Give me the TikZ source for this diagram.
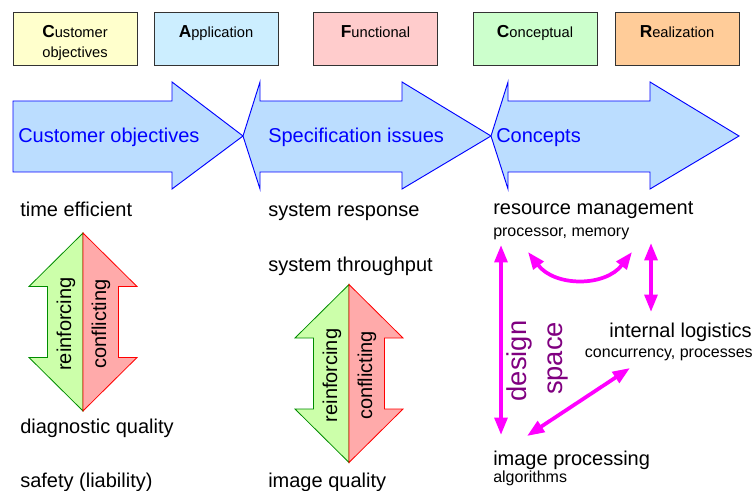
\documentclass[tikz,border=0pt]{standalone}
\usepackage{fontspec}
\setmainfont{Liberation Sans}
\usepackage{tikz}
\usetikzlibrary{arrows.meta, positioning}
\definecolor{custcolor}{RGB}{255,255,204}
\definecolor{appcolor}{RGB}{204,238,255}
\definecolor{funccolor}{RGB}{255,204,204}
\definecolor{conccolor}{RGB}{204,255,204}
\definecolor{realcolor}{RGB}{255,204,153}
\definecolor{arrowfill}{RGB}{187,221,255}
\definecolor{profill}{RGB}{204,255,170}
\definecolor{proline}{RGB}{0,140,0}
\definecolor{confill}{RGB}{255,170,170}
\definecolor{conline}{RGB}{255,0,0}
\definecolor{linkcolor}{RGB}{255,0,255}
\definecolor{spacecolor}{RGB}{128,0,128}
\newcommand{\bigini}[1]{{\fontsize{13}{15}\selectfont\bfseries #1}}

\begin{document}
\begin{tikzpicture}[
    x=0.75pt, y=-0.75pt,
    cafbox/.style={draw=black!80, line width=0.6pt, minimum width=93pt, minimum height=39.75pt, inner sep=0},
    boxlabel/.style={anchor=north, align=center, inner sep=0, font=\fontsize{11}{15}\selectfont},
    bigarrow/.style={draw=blue, fill=arrowfill, line width=0.7pt},
    arrowlabel/.style={anchor=base west, inner sep=0, text=blue, font=\fontsize{15}{18}\selectfont},
    itemtext/.style={anchor=base west, inner sep=0, font=\fontsize{15}{18}\selectfont},
    subtext/.style={anchor=base west, inner sep=0, font=\fontsize{12}{14}\selectfont},
    pro/.style={draw=proline, fill=profill, line width=0.6pt},
    con/.style={draw=conline, fill=confill, line width=0.6pt},
    sidelabel/.style={rotate=90, inner sep=0, font=\fontsize{15}{18}\selectfont},
    spacetext/.style={rotate=90, inner sep=0, text=spacecolor, font=\fontsize{20.5}{24}\selectfont},
    link/.style={{Triangle[length=13pt,width=9.5pt]}-{Triangle[length=13pt,width=9.5pt]}, line width=2.8pt, linkcolor}
]
    \useasboundingbox (0,0) rectangle (756,491);

    % CAFCR boxes
    \node[cafbox, fill=custcolor] (boxC) at (75,38.5) {};
    \node[cafbox, fill=appcolor] (boxA) at (216,38.5) {};
    \node[cafbox, fill=funccolor] (boxF) at (375.5,38.5) {};
    \node[cafbox, fill=conccolor] (boxCo) at (535,38.5) {};
    \node[cafbox, fill=realcolor] (boxR) at (677,38.5) {};
    \node[boxlabel] (labC) at (75,25.5) {\bigini{C}ustomer\\objectives};
    \node[boxlabel] (labA) at (216,25.5) {\bigini{A}pplication};
    \node[boxlabel] (labF) at (375.5,25.5) {\bigini{F}unctional};
    \node[boxlabel] (labCo) at (535,25.5) {\bigini{C}onceptual};
    \node[boxlabel] (labR) at (677,25.5) {\bigini{R}ealization};

    % big arrows
    \draw[bigarrow] (13,101) -- (172,101) -- (172,82) -- (243,136) -- (172,189) -- (172,172) -- (13,172) -- cycle;
    \draw[bigarrow] (260,101) -- (402,101) -- (402,82) -- (491,136) -- (402,189) -- (402,172) -- (260,172) -- (260,189) -- (243,136) -- (260,82) -- cycle;
    \draw[bigarrow] (508,101) -- (650,101) -- (650,82) -- (739,136) -- (650,189) -- (650,172) -- (508,172) -- (508,189) -- (491,136) -- (508,82) -- cycle;
    \node[arrowlabel] (custobj) at (18,143) {Customer objectives};
    \node[arrowlabel] (specissue) at (268,143) {Specification issues};
    \node[arrowlabel] (concepts) at (496,143) {Concepts};

    % qualities
    \node[itemtext] (timeeff) at (20,217) {time efficient};
    \node[itemtext] (diagqual) at (20,433) {diagnostic quality};
    \node[itemtext] (safety) at (20,487) {safety (liability)};
    \node[itemtext] (sysresp) at (268,217) {system response};
    \node[itemtext] (systhru) at (268,272) {system throughput};
    \node[itemtext] (imgqual) at (268,487) {image quality};

    % reinforcing / conflicting
    \foreach \cx/\cy/\n in {83/322/A, 349/373.5/B} {
        \draw[pro] (\cx,\cy-89) -- (\cx-54,\cy-35.5) -- (\cx-35.5,\cy-35.5) -- (\cx-35.5,\cy+35.5) -- (\cx-54,\cy+35.5) -- (\cx,\cy+89) -- cycle;
        \draw[con] (\cx,\cy-89) -- (\cx+54,\cy-35.5) -- (\cx+35.5,\cy-35.5) -- (\cx+35.5,\cy+35.5) -- (\cx+54,\cy+35.5) -- (\cx,\cy+89) -- cycle;
        \node[sidelabel] (reinf\n) at (\cx-17,\cy+2) {reinforcing};
        \node[sidelabel] (confl\n) at (\cx+18,\cy+2) {conflicting};
    }

    % design space
    \node[itemtext] (resmgmt) at (493,215) {resource management};
    \node[subtext] (procmem) at (493,237) {processor, memory};
    \node[itemtext, anchor=base east] (intlog) at (752,338) {internal logistics};
    \node[subtext, anchor=base east] (concproc) at (753,358) {concurrency, processes};
    \node[itemtext] (imgproc) at (493,465) {image processing};
    \node[subtext] (algo) at (493,482) {algorithms};
    \node[spacetext] (design) at (519,361) {design};
    \node[spacetext] (space) at (557.5,358.5) {space};

    \coordinate (rmL) at (501,245);
    \coordinate (ipL) at (501,435);
    \coordinate (pmA) at (528,252);
    \coordinate (pmB) at (632,252);
    \coordinate (rmR) at (651,243);
    \coordinate (ilT) at (651,312);
    \coordinate (ilB) at (630,368);
    \coordinate (ipR) at (527,436);

    \draw[link] (rmL) -- (ipL);
    \draw[link] (pmA) .. controls (555,287) and (605,287) .. (pmB);
    \draw[link] (rmR) -- (ilT);
    \draw[link] (ilB) -- (ipR);
\end{tikzpicture}
\end{document}
